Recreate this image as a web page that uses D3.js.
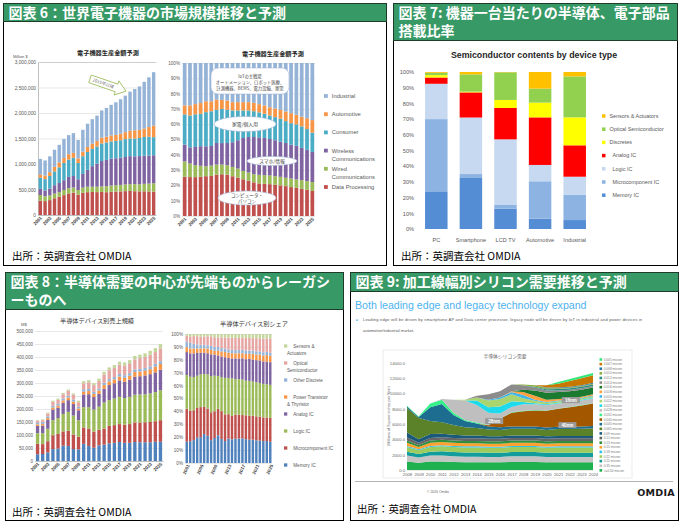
<!DOCTYPE html>
<html><head><meta charset="utf-8">
<script src="https://cdn.jsdelivr.net/npm/d3@7"></script>
<style>body{margin:0;background:#fff}svg{display:block}</style>
</head><body>
<svg id="c" width="687" height="527"></svg>
<script>
// ---------- DATA ----------
// Panel 6 (thousand Million $ units shown as full numbers)
const years25 = [2001,2002,2003,2004,2005,2006,2007,2008,2009,2010,2011,2012,2013,2014,2015,2016,2017,2018,2019,2020,2021,2022,2023,2024,2025];
const dataProcessing = [282,272,292,328,358,390,423,438,397,434,448,451,449,451,447,454,460,463,468,472,467,464,465,462,458];
const wiredComm      = [110,95,90,92,89,101,103,101,91,102,107,103,105,109,118,123,126,127,131,133,138,139,146,154,164];
const wirelessComm   = [121,113,137,164,180,191,221,226,213,269,331,404,452,498,515,525,526,533,538,549,546,552,551,551,550];
const consumer       = [218,223,245,271,307,338,340,358,319,347,349,338,339,346,342,341,340,343,351,346,348,355,368,367,354];
const automotive     = [64,70,77,90,98,97,105,95,90,90,97,102,105,113,113,117,119,129,136,152,161,159,164,190,229];
const industrial     = [305,297,309,335,344,373,374,387,360,428,458,481,499,533,565,600,639,674,716,767,810,852,917,976,1045];
const p6Ticks = [0,500,1000,1500,2000,2500,3000];

// Panel 7 (%)
const devices     = ["PC","Smartphone","LCD TV","Automotive","Industrial"];
const memoryIC7   = [24,32.5,13,6.6,5.7];
const microIC7    = [46,2.5,2.3,23.8,16.2];
const logicIC7    = [22.5,36,41.8,10.4,11.4];
const analogIC7   = [4,16,20,30.3,20];
const discretes7  = [1.5,0.5,5.1,9.4,17.8];
const optical7    = [1.5,11,17.6,8.9,26.1];
const sensors7    = [0.5,1.5,0.2,10.6,2.8];

// Panel 8 (thousand M$)
const memory8  = [26,27,33,46,48,59,58,46,45,66,58,51,60,63,68,70,73,70,70,73,72,72,72,74,74];
const micro8   = [40,38,43,53,56,55,58,56,48,63,67,62,60,62,67,68,69,70,72,75,76,77,78,79,83];
const logic8   = [41,42,48,58,61,67,73,73,64,78,82,85,89,100,99,102,105,102,105,107,108,108,110,112,115];
const analog8  = [28,29,34,41,40,43,45,44,38,49,50,48,49,53,58,59,63,63,66,69,70,72,74,76,79];
const power8   = [6,6,7,8,8,9,10,9,7,11,12,12,13,14,14,15,15,15,15,18,18,19,19,22,22];
const otherD8  = [7,7,7,7,7,7,7,8,7,9,8,8,8,9,9,9,10,10,10,10,10,10,11,11,11];
const optical8 = [7,8,11,15,15,17,19,19,17,23,26,26,29,32,34,35,36,37,38,39,42,42,45,45,49];
const sensors8 = [2,3,3,4,5,5,5,5,6,8,8,8,9,10,11,11,11,12,12,13,13,14,15,15,16];
const p8Ticks = [0,50,100,150,200,250,300,350,400,450,500];

// Panel 9 (Millions of square inches per year)
const years17 = [2008,2009,2010,2011,2012,2013,2014,2015,2016,2017,2018,2019,2020,2021,2022,2023,2024];
const n050 = [1100,950,1100,1100,1050,1000,1000,1000,1000,1050,1050,1050,1000,1000,1000,1000,1000];
const n035 = [800,700,800,800,750,750,750,700,700,750,750,750,700,700,700,700,700];
const n025 = [500,450,500,550,550,550,550,550,550,550,550,550,550,550,550,550,550];
const n022 = [600,500,600,650,650,650,650,650,650,650,650,650,650,700,700,700,700];
const n018 = [150,120,150,150,150,150,150,150,150,150,150,150,150,150,150,150,150];
const n015 = [400,300,400,400,400,400,400,400,400,400,400,400,400,400,400,400,400];
const n013 = [300,250,300,300,300,300,300,300,300,300,300,300,300,300,300,300,300];
const n011 = [400,300,350,350,350,350,350,350,350,350,350,350,350,350,350,350,350];
const n009 = [650,450,500,450,400,350,350,300,300,300,300,300,300,300,300,300,300];
const n0065 = [3200,2780,1700,1500,1300,1100,1000,900,850,900,900,900,850,900,900,950,1000];
const n0045 = [200,150,1800,2400,1300,800,600,400,350,300,300,300,300,300,300,300,300];
const n0040 = [0,0,0,0,0,0,0,150,1100,1800,2000,2100,2200,2350,2550,2750,2950];
const n0032 = [100,50,500,550,300,150,100,50,50,50,50,50,50,50,50,50,50];
const n0028 = [0,0,0,100,1700,2550,2300,1600,650,700,850,750,700,650,600,600,650];
const n0025 = [0,0,0,0,0,0,600,700,900,750,300,150,100,100,100,100,100];
const n0022 = [0,0,0,0,0,100,400,900,1000,900,500,300,200,200,150,150,150];
const n0020 = [0,0,0,0,0,0,0,100,200,300,400,150,100,100,100,100,100];
const n0018 = [0,0,0,0,0,0,0,0,0,100,400,500,300,200,200,150,150];
const n0016 = [0,0,0,0,0,0,0,0,0,0,300,700,900,900,900,900,900];
const n0014 = [0,0,0,0,0,0,200,700,800,900,600,400,300,200,200,200,200];
const n0012 = [0,0,0,0,0,0,0,0,0,0,0,100,150,200,200,200,200];
const n0010 = [0,0,0,0,0,0,0,0,0,0,100,200,150,100,100,100,100];
const n0008 = [0,0,0,0,0,0,0,0,0,0,0,0,100,100,100,100,100];
const n0007 = [0,0,0,0,0,0,0,0,0,0,0,0,300,500,750,900,1000];
const n0005 = [0,0,0,0,0,0,0,0,0,0,0,0,0,200,250,300,300];
const p9Ticks = [0,2000,4000,6000,8000,10000,12000,14000];

// ---------- RENDER ----------
const svg = d3.select('#c');
const FJ = '"Noto Sans CJK JP", sans-serif';
const FA = '"Liberation Sans", Arial, sans-serif';
const GREEN = '#379a66';

function panel(x, y, w, h, hh, lines) {
  svg.append('rect').attr('x',x).attr('y',y).attr('width',w).attr('height',h).attr('fill','#fff').attr('stroke','#000').attr('stroke-width',1);
  svg.append('rect').attr('x',x).attr('y',y).attr('width',w).attr('height',hh).attr('fill',GREEN).attr('stroke','#1d3d2a').attr('stroke-width',1);
  lines.forEach((t,i)=>svg.append('text').attr('x',x+5).attr('y',y+14+i*18).text(t)
    .attr('font-family',FJ).attr('font-weight','bold').attr('font-size',14).attr('fill','#fff'));
}
function source(x, y) {
  svg.append('text').attr('x',x).attr('y',y).text('出所：英調査会社 OMDIA')
    .attr('font-family',FJ).attr('font-size',10.5).attr('fill','#000');
}

function barChart(o) {
  const table = o.cats.map((c,i)=>{const r={cat:c}; o.series.forEach(s=>r[s.name]=s.values[i]); return r;});
  const st = d3.stack().keys(o.series.map(s=>s.name));
  if (o.expand) st.offset(d3.stackOffsetExpand);
  const layers = st(table);
  const x = d3.scaleBand().domain(o.cats).range(o.x).paddingInner(o.pad).paddingOuter(o.pad/2);
  const y = d3.scaleLinear().domain([0,o.max]).range([o.y[1],o.y[0]]);
  const g = svg.append('g');
  const ya = g.append('g').attr('transform',`translate(${o.x[0]},0)`)
    .call(d3.axisLeft(y).tickValues(o.ticks).tickFormat(o.fmt).tickSize(o.grid? -(o.x[1]-o.x[0]) : 0).tickPadding(o.tp||2));
  ya.select('.domain').attr('stroke', o.yline ? '#bfbfbf' : 'none');
  ya.selectAll('line').attr('stroke','#d9d9d9').attr('stroke-width',0.6);
  ya.selectAll('text').attr('font-size',o.yfs).attr('fill','#595959').attr('font-family',FA);
  layers.forEach((L,i)=>{
    g.append('g').selectAll('rect').data(L).join('rect')
      .attr('x',d=>x(d.data.cat)).attr('width',x.bandwidth())
      .attr('y',d=>y(d[1])).attr('height',d=>Math.max(0,y(d[0])-y(d[1])))
      .attr('fill',o.series[i].color);
  });
  const xa = g.append('g').attr('transform',`translate(0,${o.y[1]})`)
    .call(d3.axisBottom(x).tickValues(o.xTicks||o.cats).tickSize(0).tickPadding(o.xtp||2));
  xa.select('.domain').attr('stroke',o.xline? '#bfbfbf':'none');
  const tx = xa.selectAll('text').attr('font-size',o.xfs).attr('fill',o.xcol||'#404040').attr('font-family',FA);
  if (o.rot) tx.attr('text-anchor','end').attr('dx','-0.2em').attr('dy','0.4em').attr('transform',`rotate(${o.rot})`).attr('font-weight','bold');
  return {x,y,g};
}
function legend(items, x, y0, step, sq, fs, opt={}) {
  const g = svg.append('g');
  items.forEach((it,i)=>{
    const yy = y0 + i*step;
    g.append('rect').attr('x',x).attr('y',yy-sq/2).attr('width',sq).attr('height',sq).attr('fill',it.color);
    it.lines.forEach((t,j)=>g.append('text').attr('x', j===0 ? x+sq+(opt.gap||4)+(opt.ind1||0)(it) : x+(opt.ind2||0))
      .attr('y',yy+j*(opt.lh||8)).attr('dy','0.35em').text(t)
      .attr('font-size',fs).attr('fill',opt.col||'#595959').attr('font-family',opt.font||FA));
  });
}

// ---------- Panel 6 ----------
panel(3.5,3.5,383,262,18,['図表 6：世界電子機器の市場規模推移と予測']);
const p6Series = [
  {name:'Data Processing', values:dataProcessing, color:'#c0504d'},
  {name:'Wired Communications', values:wiredComm, color:'#9bbb59'},
  {name:'Wireless Communications', values:wirelessComm, color:'#8064a2'},
  {name:'Consumer', values:consumer, color:'#4bacc6'},
  {name:'Automotive', values:automotive, color:'#f79646'},
  {name:'Industrial', values:industrial, color:'#95b3d7'}
];
const oddYears = years25.filter((d,i)=>i%2===0);
barChart({cats:years25, series:p6Series, x:[38,156], y:[62,215], max:3000, pad:0.28,
  ticks:p6Ticks, fmt:d=>d3.format(',')(d*1000), grid:true, yline:true, xline:true, yfs:4.8, xfs:4.6,
  xTicks:oddYears, rot:-45});
svg.append('text').attr('x',13).attr('y',58).text('Million $').attr('font-size',4).attr('fill','#595959').attr('font-family',FA);
svg.append('text').attr('x',108).attr('y',55).attr('text-anchor','middle').text('電子機器生産金額予測')
  .attr('font-family',FJ).attr('font-weight','bold').attr('font-size',6.2).attr('fill','#222');
// forecast arrow
const arr = svg.append('g').attr('transform','translate(108,85) rotate(19)');
arr.append('path').attr('d','M-19,-4 L9,-4 L9,-7.5 L19,0 L9,7.5 L9,4 L-19,4 Z').attr('fill','#fff').attr('stroke','#9bbb59').attr('stroke-width',0.8);
arr.append('text').attr('x',-5).attr('y',1.6).attr('text-anchor','middle').text('2019年以降').attr('font-family',FJ).attr('font-size',4.3).attr('fill','#777');

const p6r = barChart({cats:years25, series:p6Series, x:[182,315], y:[63,216], max:1, pad:0.3, expand:true,
  ticks:d3.range(0,1.01,0.1), fmt:d3.format('.0%'), grid:true, yline:false, xline:false, yfs:4.6, xfs:4.6,
  xTicks:oddYears, rot:-45});
svg.append('text').attr('x',273).attr('y',56).attr('text-anchor','middle').text('電子機器生産金額予測')
  .attr('font-family',FJ).attr('font-weight','bold').attr('font-size',6.2).attr('fill','#222');
// annotations
function ellipseNote(cx, cy, rx, ry, lines, fs) {
  svg.append('ellipse').attr('cx',cx).attr('cy',cy).attr('rx',rx).attr('ry',ry).attr('fill','#fff').attr('stroke','#a7b8d8').attr('stroke-width',0.6);
  lines.forEach((t,i)=>svg.append('text').attr('x',cx).attr('y',cy+(i-(lines.length-1)/2)*6).attr('dy','0.35em').attr('text-anchor','middle')
    .text(t).attr('font-family',FJ).attr('font-size',fs).attr('fill','#444'));
}
svg.append('rect').attr('x',211).attr('y',68).attr('width',78).attr('height',26).attr('rx',7).attr('fill','#fff').attr('stroke','#a7b8d8').attr('stroke-width',0.6);
['IoTの主戦場','オートメーション、ロボット医療、','計測機器、BEMS、電力設備、軍需'].forEach((t,i)=>
  svg.append('text').attr('x',250).attr('y',76+i*6.3).attr('dy','0.35em').attr('text-anchor','middle').text(t)
    .attr('font-family',FJ).attr('font-size',4.3).attr('fill','#444'));
ellipseNote(245,124,31,7.5,['家電/個人用'],4.8);
ellipseNote(272,161,25,4.5,['スマホ/情報'],4.8);
ellipseNote(247,198,29,7,['コンピュータ・','パソコン'],4.6);
legend([
  {color:'#95b3d7',lines:['Industrial']},
  {color:'#f79646',lines:['Automotive']},
  {color:'#4bacc6',lines:['Consumer']},
  {color:'#8064a2',lines:['Wireless','Communications']},
  {color:'#9bbb59',lines:['Wired','Communications']},
  {color:'#c0504d',lines:['Data Processing']}
], 324, 96, 18.2, 3.8, 5.8, {gap:4, ind1:()=>0, ind2:7.8, lh:8});
source(12,260);

// ---------- Panel 7 ----------
panel(393.5,3.5,284,262,37,['図表 7: 機器一台当たりの半導体、電子部品','搭載比率']);
svg.append('text').attr('x',534).attr('y',58).attr('text-anchor','middle').text('Semiconductor contents by device type')
  .attr('font-family',FA).attr('font-weight','bold').attr('font-size',8.8).attr('fill','#262626');
const p7Series = [
  {name:'Memory IC', values:memoryIC7, color:'#548dd4'},
  {name:'Microcomponent IC', values:microIC7, color:'#8db3e2'},
  {name:'Logic IC', values:logicIC7, color:'#c6d9f1'},
  {name:'Analog IC', values:analogIC7, color:'#ff0000'},
  {name:'Discretes', values:discretes7, color:'#ffff00'},
  {name:'Optical Semiconductor', values:optical7, color:'#92d050'},
  {name:'Sensors & Actuators', values:sensors7, color:'#ffc000'}
];
barChart({cats:devices, series:p7Series, x:[419,592], y:[72,229], max:100, pad:0.35,
  ticks:[0,10,20,30,40,50,60,70,80,90,100], fmt:d=>d+'%', grid:false, yline:false, xline:false, yfs:5.6, xfs:5.6, xtp:9, xcol:'#595959', tp:5});
legend(p7Series.slice().reverse().map(s=>({color:s.color, lines:[s.name]})), 602, 116, 13.2, 3.5, 5.4,
  {gap:4, ind1:(it)=>(['Analog IC','Logic IC','Microcomponent IC','Memory IC'].includes(it.lines[0])?3:0)});
source(401,260);

// ---------- Panel 8 ----------
panel(5.5,272.5,338,248,37,['図表 8：半導体需要の中心が先端ものからレーガシ','ーものへ']);
const p8Series = [
  {name:'Memory IC', values:memory8, color:'#4f81bd'},
  {name:'Microcomponent IC', values:micro8, color:'#c0504d'},
  {name:'Logic IC', values:logic8, color:'#9bbb59'},
  {name:'Analog IC', values:analog8, color:'#8064a2'},
  {name:'Power Transistor & Thyristor', values:power8, color:'#f79646'},
  {name:'Other Discrete', values:otherD8, color:'#95b3d7'},
  {name:'Optical Semiconductor', values:optical8, color:'#e6a6a4'},
  {name:'Sensors & Actuators', values:sensors8, color:'#c3d69b'}
];
barChart({cats:years25, series:p8Series, x:[35,163], y:[331,461], max:500, pad:0.35,
  ticks:p8Ticks, fmt:d=>d3.format(',')(d*1000), grid:true, yline:false, xline:true, yfs:4.6, xfs:4.6,
  xTicks:oddYears, rot:-45});
svg.append('text').attr('x',21).attr('y',326).text('M$').attr('font-size',4.2).attr('fill','#595959').attr('font-family',FA);
svg.append('text').attr('x',97).attr('y',323).attr('text-anchor','middle').text('半導体デバイス別売上規模')
  .attr('font-family',FJ).attr('font-size',6.2).attr('fill','#333');
barChart({cats:years25, series:p8Series, x:[185,272], y:[334,463], max:1, pad:0.3, expand:true,
  ticks:d3.range(0,1.01,0.1), fmt:d3.format('.0%'), grid:true, yline:false, xline:false, yfs:4.6, xfs:4.6,
  xTicks:years25.filter((d,i)=>i%4===0), rot:-65});
svg.append('text').attr('x',254).attr('y',326).attr('text-anchor','middle').text('半導体デバイス別シェア')
  .attr('font-family',FJ).attr('font-size',6.2).attr('fill','#333');
legend([
  {color:'#c3d69b',lines:['Sensors &','Actuators']},
  {color:'#e6a6a4',lines:['Optical','Semiconductor']},
  {color:'#95b3d7',lines:['Other Discrete']},
  {color:'#f79646',lines:['Power Transistor','& Thyristor']},
  {color:'#8064a2',lines:['Analog IC']},
  {color:'#9bbb59',lines:['Logic IC']},
  {color:'#c0504d',lines:['Microcomponent IC']},
  {color:'#4f81bd',lines:['Memory IC']}
], 284, 346, 17, 3.3, 4.6, {gap:4, ind1:()=>2, ind2:3, lh:7});
source(12,516);

// ---------- Panel 9 ----------
panel(350.5,272.5,328,248,19,['図表 9: 加工線幅別シリコン需要推移と予測']);
svg.append('text').attr('x',355).attr('y',309).text('Both leading edge and legacy technology expand')
  .attr('font-family',FA).attr('font-size',10.6).attr('fill','#4db3ef');
svg.append('text').attr('x',356).attr('y',320.5).text('►').attr('font-size',3.5).attr('fill','#4db3ef').attr('font-family','DejaVu Sans');
svg.append('text').attr('x',363).attr('y',321).text('Leading edge will be driven by smartphone AP and Data center processor, legacy node will be driven by IoT in industrial and power devices in')
  .attr('font-family',FA).attr('font-size',4).attr('fill','#555').attr('textLength',279);
svg.append('text').attr('x',363).attr('y',332).text('automotive/industrial market.')
  .attr('font-family',FA).attr('font-size',4).attr('fill','#555');
svg.append('rect').attr('x',383).attr('y',350).attr('width',249).attr('height',128).attr('fill','#fff').attr('stroke','#e3e3e3').attr('stroke-width',0.7);
const p9Series = [
  {name:'>=0.50 micron', values:n050, color:'#1fb04f'},
  {name:'0.35 micron', values:n035, color:'#c4c4c4'},
  {name:'0.25 micron', values:n025, color:'#129c9c'},
  {name:'0.22 micron', values:n022, color:'#9ccb5e'},
  {name:'0.18 micron', values:n018, color:'#35c2ea'},
  {name:'0.15 micron', values:n015, color:'#ffa12e'},
  {name:'0.13 micron', values:n013, color:'#2f8f3f'},
  {name:'0.11 micron', values:n011, color:'#656565'},
  {name:'0.09 micron', values:n009, color:'#1b5a7a'},
  {name:'0.065 micron', values:n0065, color:'#5b8129'},
  {name:'0.045 micron', values:n0045, color:'#1c6d90'},
  {name:'0.040 micron', values:n0040, color:'#a35800'},
  {name:'0.032 micron', values:n0032, color:'#36f08a'},
  {name:'0.028 micron', values:n0028, color:'#bfbfbf'},
  {name:'0.025 micron', values:n0025, color:'#1fd9ec'},
  {name:'0.022 micron', values:n0022, color:'#a9d46e'},
  {name:'0.020 micron', values:n0020, color:'#3fb6ea'},
  {name:'0.018 micron', values:n0018, color:'#ffa040'},
  {name:'0.016 micron', values:n0016, color:'#1a7a30'},
  {name:'0.014 micron', values:n0014, color:'#8c8c8c'},
  {name:'0.012 micron', values:n0012, color:'#2a8a8a'},
  {name:'0.010 micron', values:n0010, color:'#8bb03a'},
  {name:'0.008 micron', values:n0008, color:'#2a78b0'},
  {name:'0.007 micron', values:n0007, color:'#c87800'},
  {name:'0.005 micron', values:n0005, color:'#33e67a'}
];
{
  const table = years17.map((yr,i)=>{const r={year:yr}; p9Series.forEach(s=>r[s.name]=s.values[i]); return r;});
  const layers = d3.stack().keys(p9Series.map(s=>s.name))(table);
  const x = d3.scaleLinear().domain([2008,2024]).range([407,593]);
  const y = d3.scaleLinear().domain([0,14000]).range([470,363]);
  const g = svg.append('g');
  const ya = g.append('g').attr('transform','translate(407,0)').call(d3.axisLeft(y).tickValues(p9Ticks).tickFormat(d3.format('.1f')).tickSize(0).tickPadding(2));
  ya.select('.domain').remove();
  ya.selectAll('text').attr('font-size',4.2).attr('fill','#666').attr('font-family',FA);
  const area = d3.area().x(d=>x(d.data.year)).y0(d=>y(d[0])).y1(d=>y(d[1]));
  g.selectAll('path.ar').data(layers).join('path').attr('class','ar').attr('d',area).attr('fill',(d,i)=>p9Series[i].color);
  const xa = g.append('g').attr('transform','translate(0,470)').call(d3.axisBottom(x).tickValues(years17).tickFormat(d3.format('d')).tickSize(0).tickPadding(3));
  xa.select('.domain').attr('stroke','#d0d0d0').attr('stroke-width',0.5);
  xa.selectAll('text').attr('font-size',4.2).attr('fill','#666').attr('font-family',FA);
  svg.append('text').attr('transform','translate(390,416) rotate(-90)').attr('text-anchor','middle')
    .text('(Millions of Square inches per Year)').attr('font-size',3.8).attr('fill','#666').attr('font-family',FA);
  svg.append('text').attr('x',505).attr('y',358).attr('text-anchor','middle').text('半導体シリコン需要')
    .attr('font-family',FJ).attr('font-size',4.8).attr('fill','#666');
  [['28nm',2015.5,6400],['40nm',2021.8,5870],['16nm',2022.1,9150]].forEach(([t,xv,yv])=>{
    svg.append('rect').attr('x',x(xv)-9).attr('y',y(yv)-3).attr('width',18).attr('height',6).attr('fill','#9a9a9a');
    svg.append('text').attr('x',x(xv)).attr('y',y(yv)).attr('dy','0.35em').attr('text-anchor','middle').text(t)
      .attr('font-size',4.6).attr('font-weight','bold').attr('fill','#fff').attr('font-family',FA);
  });
  legend(p9Series.slice().reverse().map(s=>({color:s.color, lines:[s.name]})), 599.5, 359.5, 4.62, 2.6, 3.2, {gap:1.6, ind1:()=>0, col:'#777'});
}
svg.append('line').attr('x1',355).attr('x2',673).attr('y1',481.5).attr('y2',481.5).attr('stroke','#a0a0a0').attr('stroke-width',0.8);
svg.append('text').attr('x',427).attr('y',493).text('© 2020 Omdia').attr('font-size',3.4).attr('fill','#666').attr('font-family',FA);
svg.append('text').attr('x',675).attr('y',496).attr('text-anchor','end').text('OMDIA')
  .attr('font-family','"DejaVu Sans", sans-serif').attr('font-weight','bold').attr('font-size',9.5).attr('fill','#1a1a1a').attr('letter-spacing',0.3);
source(357,513);
</script>
</body></html>
